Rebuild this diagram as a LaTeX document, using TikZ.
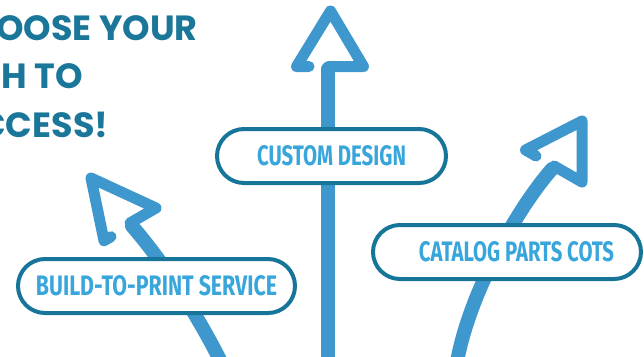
\documentclass[tikz,border=0pt]{standalone}
\usepackage{fontspec}
\usepackage{graphicx}
\usetikzlibrary{shapes.misc}

\newfontfamily\headfont{Poppins}
\newfontfamily\labelfont{Fira Sans}
\definecolor{arrowblue}{HTML}{3F98CD}
\definecolor{boxteal}{HTML}{17759A}
\definecolor{labelblue}{HTML}{38A5DB}
\definecolor{headteal}{HTML}{1A7799}
\newcommand{\pilltext}[2]{\resizebox{#1}{20pt}{\labelfont\bfseries #2}}

\begin{document}
\begin{tikzpicture}[x=1pt,y=-1pt,
  shaft/.style={draw=arrowblue,line width=14pt,line cap=round},
  arrowhead/.style={draw=arrowblue,line width=11pt,line cap=round,line join=round},
  pill/.style={rounded rectangle,draw=boxteal,line width=4pt,fill=white,
    minimum height=54pt,inner sep=0pt,text=labelblue},
  heading/.style={anchor=base east,inner sep=0pt,text=headteal,
    font=\headfont\bfseries\fontsize{35}{42}\selectfont}]
\useasboundingbox (0,0) rectangle (644,356);
\clip (0,0) rectangle (644,356);

% Heading
\node[heading] (line1) at (198,40) {OOSE YOUR};
\node[heading] (line2) at (83,88.5) {H TO};
\node[heading] (line3) at (108.5,137) {CCESS!};

% Left arrow
\draw[shaft] (132,226) .. controls (160,258) and (195,310) .. (221,362);
\draw[arrowhead] (130,223) -- (156,208) -- (91,178) -- (104,240.7) -- (111,236.7);

% Middle arrow
\draw[shaft] (328.3,362) -- (328.3,69);
\draw[arrowhead] (328.3,66.5) -- (363.5,66.5) -- (330.5,11) -- (296.5,66.5) -- (309,66.5);

% Right arrow
\draw[shaft] (552,169) .. controls (520,205) and (470,290) .. (457,362);
\draw[arrowhead] (554,166) -- (582,182) -- (582,121) -- (525.5,150) -- (536,156);

% Labels
\node[pill,minimum width=229pt] (custom) at (331.5,156) {\pilltext{149pt}{CUSTOM DESIGN}};
\node[pill,minimum width=277pt] (build) at (156.5,286) {\pilltext{241pt}{BUILD-TO-PRINT SERVICE}};
\node[pill,minimum width=268pt] (catalog) at (507,252) {\hspace*{19pt}\pilltext{195pt}{CATALOG PARTS COTS}};
\end{tikzpicture}
\end{document}
